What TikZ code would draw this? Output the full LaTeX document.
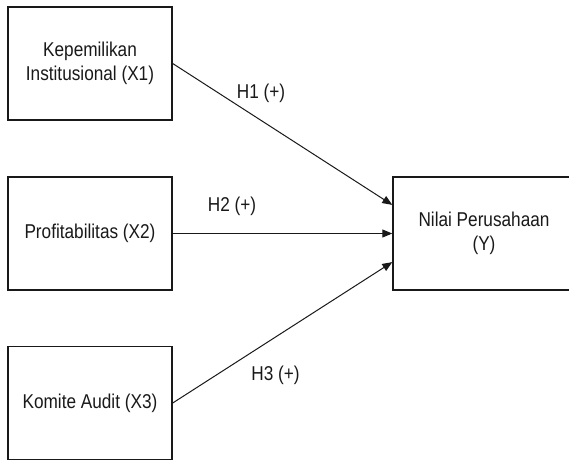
\documentclass[tikz,border=0pt]{standalone}
\usepackage{fontspec}
\setmainfont{Liberation Sans}[FakeStretch=0.86]
\usetikzlibrary{arrows.meta,calc}
\begin{document}
\begin{tikzpicture}[x=1pt,y=1pt,
  varbox/.style={draw=black!90, line width=1.4pt, minimum width=164pt, minimum height=113pt,
    inner sep=0pt, align=center, font=\fontsize{20}{24}\selectfont, text=black!90},
  hlabel/.style={inner sep=0pt, font=\fontsize{20}{24}\selectfont, text=black!90},
  link/.style={draw=black!90, line width=1pt, -{Triangle[length=10pt,width=8pt]}}]
\clip (0,0) rectangle (569,459);
\useasboundingbox (0,0) rectangle (569,459);
\node[varbox] (x1) at (90,395.5) {Kepemilikan\\Institusional (X1)};
\node[varbox] (x2) at (90,225.5) {Profitabilitas (X2)};
\node[varbox] (x3) at (90,56) {Komite Audit (X3)};
\node[varbox, minimum width=182pt] (y) at (484,225.5) {Nilai Perusahaan\\(Y)};
\coordinate (yt) at ($(y.north west)!0.25!(y.south west)$);
\coordinate (yb) at ($(y.north west)!0.75!(y.south west)$);
\draw[link] (x1.east) -- (yt);
\draw[link] (x2.east) -- (y.west);
\draw[link] (x3.east) -- (yb);
\node[hlabel] (h1) at (261,366) {H1 (+)};
\node[hlabel] (h2) at (232,253) {H2 (+)};
\node[hlabel] (h3) at (275.5,84) {H3 (+)};
\end{tikzpicture}
\end{document}
